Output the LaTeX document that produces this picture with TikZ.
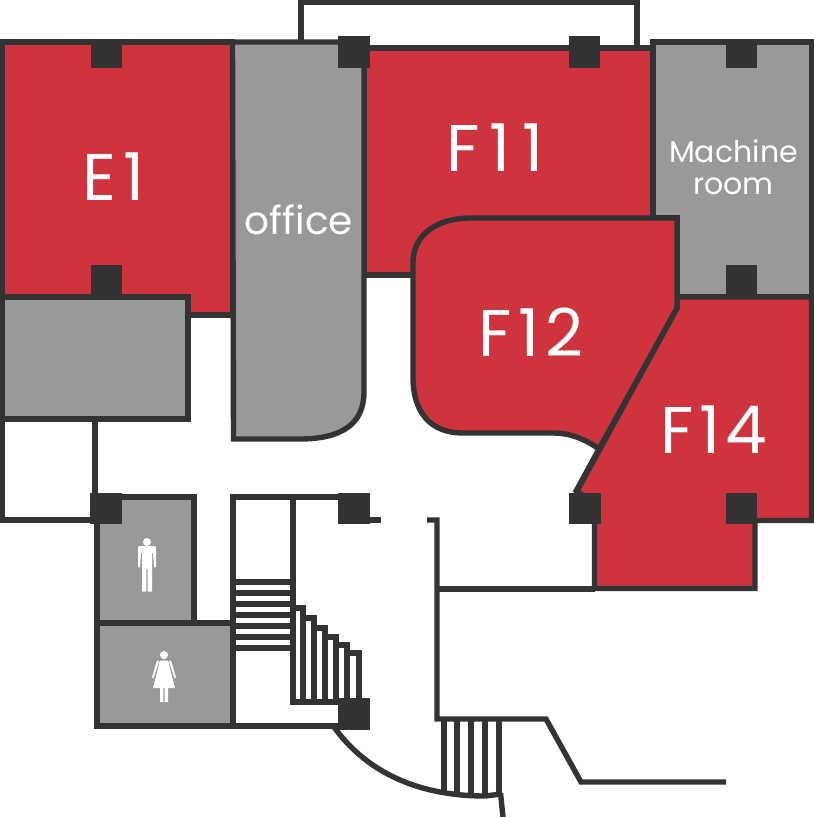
\documentclass[tikz,border=0pt]{standalone}
\usepackage{fontspec}
\setmainfont{Poppins}
\definecolor{roomred}{HTML}{CF333D}
\definecolor{roomgrey}{HTML}{999999}
\definecolor{wall}{HTML}{333333}
\tikzset{
  wallline/.style={draw=wall,line width=5.4pt,miter limit=10},
  redroom/.style={wallline,fill=roomred},
  greyroom/.style={wallline,fill=roomgrey},
  thinline/.style={draw=wall,line width=5.4pt},
  pillar/.style={fill=wall},
  bigl/.style={text=white,inner sep=0pt,font=\fontsize{66}{66}\selectfont},
  midl/.style={text=white,inner sep=0pt,font=\fontsize{39}{39}\selectfont},
  smalll/.style={text=white,inner sep=0pt,font=\fontsize{30}{30}\selectfont},
  figure/.style={fill=white}
}
\begin{document}
\begin{tikzpicture}[x=1pt,y=-1pt]
\useasboundingbox (0,0) rectangle (814,817);
\fill[white] (0,0) rectangle (814,817);
% top annex
\draw[wallline] (301,42) -- (301,2.5) -- (637,2.5) -- (637,48);
% E1
\draw[redroom] (2.5,42) -- (232.5,42) -- (232.5,315) -- (188,315) -- (188,297) -- (2.5,297) -- cycle;
% F11
\draw[redroom] (364,48) -- (653,48) -- (653,275) -- (364,275) -- cycle;
% Machine room
\draw[greyroom] (653,42) -- (811.5,42) -- (811.5,297) -- (677,297) -- (677,218) -- (653,218) -- cycle;
% office
\draw[greyroom] (232.5,42) -- (364,42) -- (364,392) .. controls (364,425) and (340,439) .. (300,439) -- (233.5,439) -- cycle;
% grey room
\draw[greyroom] (2.5,297) -- (188,297) -- (188,419) -- (2.5,419) -- cycle;
% F14
\draw[redroom] (677,297) -- (811.5,297) -- (811.5,520.5) -- (755,520.5) -- (755,588.5) -- (594.5,588.5) -- (594.5,505) -- (577,491) -- (677,308) -- cycle;
% F12
\draw[redroom] (677,218) -- (677,308) -- (599,449) .. controls (585,439) and (570,433) .. (553,433) -- (463,433) .. controls (430,433) and (413,412) .. (413,377) -- (413,263) .. controls (413,238) and (432,218) .. (472,218) -- cycle;
\draw[wallline] (599,449) -- (575,493);
% left corridor walls
\draw[wallline] (2.5,419) -- (2.5,520) -- (95,520);
\draw[wallline] (95,419) -- (95,497);
% toilets
\draw[greyroom] (97,497) -- (194,497) -- (194,623) -- (97,623) -- cycle;
\draw[greyroom] (97,623) -- (233,623) -- (233,726) -- (97,726) -- cycle;
% stair box
\draw[wallline] (233,623) -- (233,497) -- (345,497);
\draw[wallline] (233,726) -- (345,726);
\draw[thinline] (293,497) -- (293,702) -- (345,702);
\foreach \y in {582,593,604,615,626,637,648} \draw[thinline] (233,\y) -- (293,\y);
% stepped stair
\draw[thinline] (293,608) -- (303,608) -- (303,702);
\draw[thinline] (303,618) -- (314,618) -- (314,702);
\draw[thinline] (314,628) -- (325,628) -- (325,702);
\draw[thinline] (325,637) -- (336,637) -- (336,702);
\draw[thinline] (336,645) -- (347,645) -- (347,702);
\draw[thinline] (347,653) -- (359,653) -- (359,702);
% entrance walls
\draw[wallline] (369,520) -- (381,520);
\draw[wallline] (427,520) -- (437,520) -- (437,719) -- (546,719) -- (581,782) -- (726,782);
\draw[wallline] (437,589) -- (595,589);
% lower stair
\foreach \x in {444,457,471,485,499} \draw[thinline] (\x,719) -- (\x,795);
\draw[wallline] (334,727) .. controls (365,770) and (415,796) .. (485,796) -- (502,794);
\draw[wallline] (500.5,793) -- (503,817);
% pillars
\fill[pillar] (91,42) rectangle (122,67.5);
\fill[pillar] (91,265) rectangle (122,297);
\fill[pillar] (338,36) rectangle (369.5,67.5);
\fill[pillar] (569,36) rectangle (600,67.5);
\fill[pillar] (725.5,42) rectangle (757,67.5);
\fill[pillar] (725.5,265) rectangle (757,297);
\fill[pillar] (569,493) rectangle (600.5,524);
\fill[pillar] (725.5,493) rectangle (757,524);
\fill[pillar] (90,493) rectangle (122,524);
\fill[pillar] (338,493) rectangle (369.5,524);
\fill[pillar] (338,698) rectangle (369.5,729.5);
% man
\fill[figure] (147,542) circle (4);
\fill[figure] (140,546) -- (154,546) .. controls (155.5,546) and (156,547) .. (156,548) -- (156,567) -- (154,567.5) -- (153,553) -- (152,553) -- (152,591.5) -- (147.6,591.5) -- (147.6,569) -- (146.4,569) -- (146.4,591.5) -- (142,591.5) -- (142,553) -- (141,553) -- (140,567.5) -- (138,567) -- (138,548) .. controls (138,547) and (138.5,546) .. (140,546) -- cycle;
% woman
\fill[figure] (164,655) circle (4);
\fill[figure] (160,660.5) -- (168,660.5) -- (175,688) -- (168,688) -- (168,702) -- (164.7,702) -- (164.7,688) -- (163.3,688) -- (163.3,702) -- (160,702) -- (160,688) -- (153,688) -- cycle;
\fill[figure] (169,660.5) -- (171.5,661.5) -- (176,677.5) -- (174.7,678.5) -- (169.8,664.5) -- cycle;
\fill[figure] (159,660.5) -- (156.5,661.5) -- (152,677.5) -- (153.3,678.5) -- (158.2,664.5) -- cycle;
% labels
\node[bigl] (e1) at (113.5,177) {E\kern8pt 1};
\node[bigl] (f11) at (495,148) {F\kern10pt 1\kern11pt 1};
\node[bigl] (f12) at (531,332) {F\kern7pt 1\kern6pt 2};
\node[bigl] (f14) at (713.5,430) {F\kern6pt 1\kern5pt 4};
\node[midl] (office) at (299,220) {office};
\node[smalll] (mach) at (733.5,151) {Machine};
\node[smalll] (rm) at (733.5,186) {room};
\end{tikzpicture}
\end{document}
